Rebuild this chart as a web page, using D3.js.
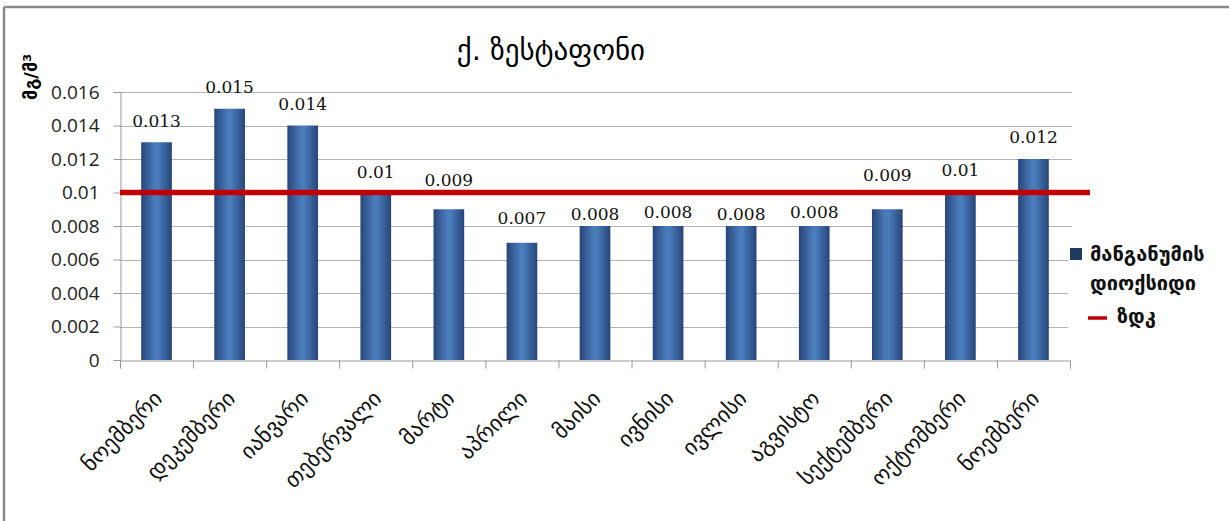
<!DOCTYPE html>
<html>
<head>
<meta charset="utf-8">
<script src="https://cdn.jsdelivr.net/npm/d3@7/dist/d3.min.js"></script>
<style>
  html, body { margin: 0; padding: 0; background: #fff; }
  svg { display: block; }
</style>
</head>
<body>
<script>
// Monthly manganese dioxide concentration, Zestaponi (mg/m³)
const months = ["ნოემბერი", "დეკემბერი", "იანვარი", "თებერვალი", "მარტი", "აპრილი",
                "მაისი", "ივნისი", "ივლისი", "აგვისტო", "სექტემბერი", "ოქტომბერი", "ნოემბერი"];
const mnValues = [0.013, 0.015, 0.014, 0.01, 0.009, 0.007, 0.008, 0.008, 0.008, 0.008, 0.009, 0.01, 0.012];
const mpcValue = 0.01;   // maximum permissible concentration
const yTicks = [0, 0.002, 0.004, 0.006, 0.008, 0.01, 0.012, 0.014, 0.016];
const tickLabels = ["0", "0.002", "0.004", "0.006", "0.008", "0.01", "0.012", "0.014", "0.016"];
const titleText = "ქ. ზესტაფონი";
const unitText = "მგ/მ³";
const seriesNames = ["მანგანუმის დიოქსიდი", "ზდკ"];

// vertical nudges for value labels (px above bar top)
const labelLift = [21, 22, 22, 21, 29, 25, 12, 14, 12, 14, 34, 23, 22];

const W = 1229, H = 521;
const plot = { left: 120, right: 1070, top: 92, bottom: 360 };
const geo = "'DejaVu Sans', sans-serif";

const svg = d3.select("body").append("svg").attr("width", W).attr("height", H);

const defs = svg.append("defs");
const grad = defs.append("linearGradient").attr("id", "barFill")
  .attr("x1", "0%").attr("x2", "100%").attr("y1", "0%").attr("y2", "0%");
grad.append("stop").attr("offset", "0%").attr("stop-color", "#27457a");
grad.append("stop").attr("offset", "45%").attr("stop-color", "#4a7cbb");
grad.append("stop").attr("offset", "55%").attr("stop-color", "#4a7cbb");
grad.append("stop").attr("offset", "100%").attr("stop-color", "#27457a");

// outer frame (top and left edges)
svg.append("line").attr("x1", 4).attr("x2", W).attr("y1", 7).attr("y2", 7)
  .attr("stroke", "#8a8a8a").attr("stroke-width", 2.5);
svg.append("line").attr("x1", 4).attr("x2", 4).attr("y1", 7).attr("y2", H)
  .attr("stroke", "#8a8a8a").attr("stroke-width", 2.5);

const x = d3.scaleBand().domain(d3.range(months.length))
  .range([plot.left, plot.right]).paddingInner(0.58).paddingOuter(0.29);
const y = d3.scaleLinear().domain([0, 0.016]).range([plot.bottom, plot.top]);

// gridlines
svg.append("g").selectAll("line").data(yTicks.slice(1)).join("line")
  .attr("x1", plot.left).attr("x2", plot.right + 2)
  .attr("y1", d => Math.round(y(d)) + 0.5).attr("y2", d => Math.round(y(d)) + 0.5)
  .attr("stroke", "#b3b3b3").attr("stroke-width", 1);

// y axis
const yAxis = d3.axisLeft(y).tickValues(yTicks)
  .tickFormat((d, i) => tickLabels[i]).tickSize(7).tickPadding(14);
const gy = svg.append("g").attr("transform", `translate(${plot.left + 0.5},0)`).call(yAxis);
gy.select(".domain").attr("stroke", "#999");
gy.selectAll(".tick line").attr("stroke", "#999");
gy.selectAll(".tick text").attr("font-family", "'Open Sans', sans-serif")
  .attr("font-size", 19).attr("fill", "#222");

// bars
svg.append("g").selectAll("rect").data(mnValues).join("rect")
  .attr("x", (d, i) => x(i)).attr("width", x.bandwidth())
  .attr("y", d => y(d)).attr("height", d => y(0) - y(d))
  .attr("fill", "url(#barFill)");

// x axis with ticks at category boundaries
const xb = d3.scaleLinear().domain([0, months.length]).range([plot.left, plot.right]);
const gx = svg.append("g").attr("transform", `translate(0,${plot.bottom + 0.5})`)
  .call(d3.axisBottom(xb).tickValues(d3.range(months.length + 1))
    .tickSize(8).tickFormat(""));
gx.select(".domain").attr("stroke", "#999");
gx.selectAll(".tick line").attr("stroke", "#999");

// category labels
svg.append("g").selectAll("text").data(months).join("text")
  .attr("transform", (d, i) => `translate(${x(i) + x.bandwidth() / 2 + 7},${plot.bottom + 40}) rotate(-45)`)
  .attr("text-anchor", "end")
  .attr("font-family", geo).attr("font-size", 22).attr("fill", "#111")
  .text(d => d);

// permissible concentration line
svg.append("line")
  .attr("x1", plot.left).attr("x2", plot.right + 20)
  .attr("y1", y(mpcValue)).attr("y2", y(mpcValue))
  .attr("stroke", "#c00000").attr("stroke-width", 5.5);

// value labels
svg.append("g").selectAll("text").data(mnValues).join("text")
  .attr("x", (d, i) => x(i) + x.bandwidth() / 2)
  .attr("y", (d, i) => y(d) - labelLift[i])
  .attr("text-anchor", "middle").attr("dominant-baseline", "central")
  .attr("font-family", "'DejaVu Serif', serif").attr("font-size", 17).attr("fill", "#111")
  .text(d => String(d));

// title
svg.append("text").attr("x", 551).attr("y", 50)
  .attr("text-anchor", "middle").attr("dominant-baseline", "central")
  .attr("font-family", geo).attr("font-size", 29).attr("fill", "#000")
  .text(titleText);

// unit label
svg.append("text")
  .attr("transform", "translate(30,77) rotate(-90)")
  .attr("text-anchor", "middle").attr("dominant-baseline", "central")
  .attr("font-family", geo).attr("font-size", 18).attr("font-weight", "bold").attr("fill", "#000")
  .text(unitText);

// legend
const lg = svg.append("g");
lg.append("rect").attr("x", 1068).attr("y", 236).attr("width", 160).attr("height", 100).attr("fill", "#fff");
lg.append("rect").attr("x", 1070).attr("y", 248).attr("width", 12).attr("height", 12).attr("fill", "#1f3a60");
const nameParts = seriesNames[0].split(" ");
const legendText = (tx, ty, s) => lg.append("text").attr("x", tx).attr("y", ty)
  .attr("dominant-baseline", "central")
  .attr("font-family", geo).attr("font-size", 20).attr("font-weight", "bold").attr("fill", "#111")
  .text(s);
legendText(1090, 254, nameParts[0]);
legendText(1090, 283, nameParts[1]);
lg.append("line").attr("x1", 1088).attr("x2", 1107).attr("y1", 318).attr("y2", 318)
  .attr("stroke", "#c00000").attr("stroke-width", 3.5);
legendText(1117, 316, seriesNames[1]);
</script>
</body>
</html>
